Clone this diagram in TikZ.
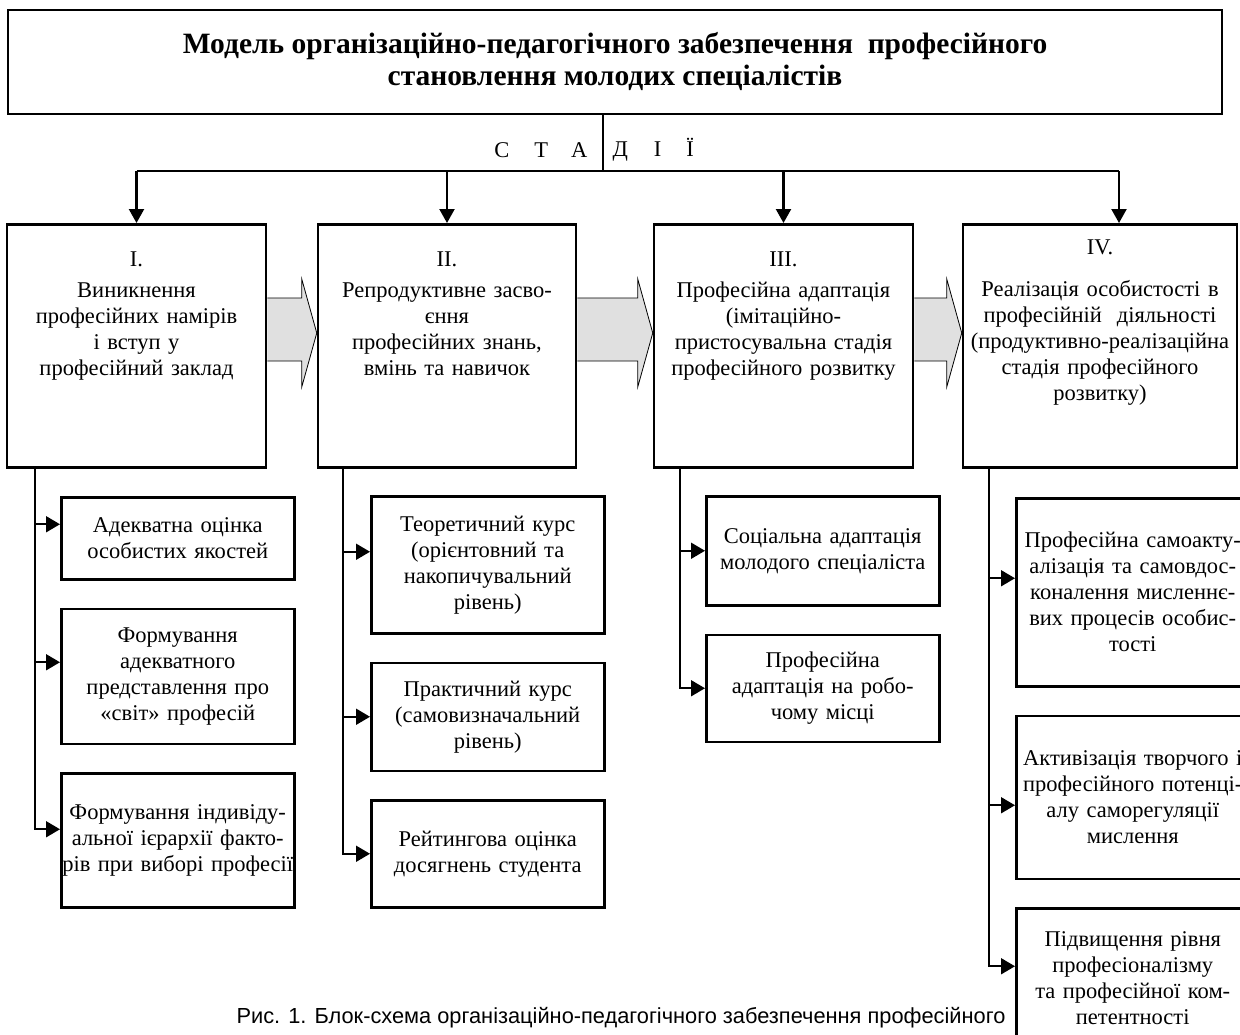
\documentclass[tikz,border=0pt]{standalone}
\usepackage{fontspec}
\setmainfont{Liberation Serif}
\newfontfamily\capfont{Liberation Sans}
\usepackage{tikz}
\usetikzlibrary{positioning}
\usetikzlibrary{arrows.meta}

\begin{document}
\begin{tikzpicture}[
        x = 1pt, y = -1pt,
        font = \fontsize{22.5}{26}\selectfont,
        stage/.style = {
            draw,
            line width = 2.5pt,
            align = center,
            anchor = north,
            inner xsep = 2pt,
            inner ysep = 0pt
        },
        sub/.style = {
            draw,
            line width = 2.5pt,
            align = center,
            text width = 229pt,
            minimum height = #1,
            inner xsep = 2pt,
            inner ysep = 0pt
        },
        link/.style = {
            line width = 2.2pt,
            -{Triangle[length=14pt, width=15pt]}
        },
        branch/.style = {
            line width = 1.8pt,
            -{Triangle[length=14pt, width=16pt]}
        },
        flow/.style = {
            draw,
            fill = black!12,
            line width = 0.8pt
        },
        node distance = {27pt}
        ]
        \useasboundingbox (0,0) rectangle (1240,1034);
%
        \node[draw, line width=2pt, minimum width=1214pt, minimum height=104pt, align=center,
              font=\bfseries\fontsize{29.5}{32}\selectfont] (title) at (615,62)
              {Модель організаційно-педагогічного забезпечення\ \ професійного\\ становлення молодих спеціалістів};
%
        \coordinate (hub) at (603,171);
        \node[anchor=east] (stl) at (591,150) {С\hspace{25pt}Т\hspace{23pt}А};
        \node[anchor=west] (str) at (609,150) {Д\hspace{26pt}І\hspace{25pt}Ї};
%
% stages
        \node[stage, text width=255pt, text height=42pt, text depth=201pt] (st1) at (136.5,223)
              {I.\\[5pt] Виникнення\\ професійних намірів\\ і вступ у\\ професійний заклад};
        \node[stage, text width=254pt, text height=42pt, text depth=201pt] (st2) at (447,223)
              {II.\\[5pt] Репродуктивне засво-\\ єння\\ професійних знань,\\ вмінь та навичок};
        \node[stage, text width=255pt, text height=42pt, text depth=201pt] (st3) at (783.5,223)
              {III.\\[5pt] Професійна адаптація\\ (імітаційно-\\ пристосувальна стадія\\ професійного розвитку};
        \node[stage, text width=270pt, text height=30pt, text depth=213pt] (st4) at (1100,223)
              {IV.\\[16pt] Реалізація особистості в\\ професійній\ \ діяльності\\ (продуктивно-реалізаційна\\ стадія професійного\\ розвитку)};
%
        \draw[line width=1.5pt] (title.south -| hub) -- (hub);
        \draw[line width=1.5pt] (st1.north |- hub) -- ([xshift=19pt]st4.north |- hub);
        \draw[link] (st1.north |- hub) -- (st1.north);
        \draw[link] (st2.north |- hub) -- (st2.north);
        \draw[link] (st3.north |- hub) -- (st3.north);
        \draw[link] ([xshift=19pt]st4.north |- hub) -- ([xshift=19pt]st4.north);
%
        \draw[flow] (st1.east |- 0,298) -- ([xshift=-15pt]st2.west |- 0,298) -- ([xshift=-15pt]st2.west |- 0,279)
              -- (st2.west |- 0,333) -- ([xshift=-15pt]st2.west |- 0,387) -- ([xshift=-15pt]st2.west |- 0,361) -- (st1.east |- 0,361);
        \draw[flow] (st2.east |- 0,298) -- ([xshift=-15pt]st3.west |- 0,298) -- ([xshift=-15pt]st3.west |- 0,279)
              -- (st3.west |- 0,333) -- ([xshift=-15pt]st3.west |- 0,387) -- ([xshift=-15pt]st3.west |- 0,361) -- (st2.east |- 0,361);
        \draw[flow] (st3.east |- 0,298) -- ([xshift=-15pt]st4.west |- 0,298) -- ([xshift=-15pt]st4.west |- 0,279)
              -- (st4.west |- 0,333) -- ([xshift=-15pt]st4.west |- 0,387) -- ([xshift=-15pt]st4.west |- 0,361) -- (st3.east |- 0,361);
%
% stage I
        \node[sub=82pt, anchor=north west] (a1) at (60,496) {Адекватна оцінка\\ особистих якостей};
        \node[sub=135pt, below=of a1] (a2) {Формування\\ адекватного\\ представлення про\\ «світ» професій};
        \node[sub=134pt, below=of a2] (a3) {Формування індивіду-\\ альної ієрархії факто-\\ \makebox[\linewidth]{рів при виборі професії}};
%
% stage II
        \node[sub=137pt, anchor=north west] (b1) at (370,495) {Теоретичний курс\\ (орієнтовний та\\ накопичувальний\\ рівень)};
        \node[sub=108pt, below=of b1] (b2) {Практичний курс\\ (самовизначальний\\ рівень)};
        \node[sub=107pt, below=of b2] (b3) {Рейтингова оцінка\\ досягнень студента};
%
% stage III
        \node[sub=109pt, anchor=north west] (c1) at (705,495) {Соціальна адаптація\\ молодого спеціаліста};
        \node[sub=107pt, below=of c1] (c2) {Професійна\\ адаптація на робо-\\ чому місці};
%
% stage IV
        \node[sub=188pt, anchor=north west] (d1) at (1015,497) {Професійна самоакту-\\ алізація та самовдос-\\ коналення мисленнє-\\ вих процесів особис-\\ тості};
        \node[sub=163pt, below=of d1] (d2) {\makebox[\linewidth]{Активізація творчого і}\\ професійного потенці-\\ алу саморегуляції\\ мислення};
        \node[sub=140pt, below=of d2] (d3) {Підвищення рівня\\ професіоналізму\\ та професійної ком-\\ петентності};
%
        \draw[branch] (st1.south -| 35,0) |- ([yshift=14pt]a1.west);
        \draw[branch] (st1.south -| 35,0) |- ([yshift=14pt]a2.west);
        \draw[branch] (st1.south -| 35,0) |- ([yshift=11pt]a3.west);
%
        \draw[branch] (st2.south -| 343,0) |- ([yshift=13pt]b1.west);
        \draw[branch] (st2.south -| 343,0) |- (b2.west);
        \draw[branch] (st2.south -| 343,0) |- (b3.west);
%
        \draw[branch] (st3.south -| 680,0) |- (c1.west);
        \draw[branch] (st3.south -| 680,0) |- (c2.west);
%
        \draw[branch] (st4.south -| 989,0) |- ([yshift=14pt]d1.west);
        \draw[branch] (st4.south -| 989,0) |- ([yshift=-8pt]d2.west);
        \draw[branch] (st4.south -| 989,0) |- ([yshift=12pt]d3.west);
%
        \node[font=\capfont\fontsize{21.8}{24}\selectfont] (cap) at (621,1018)
              {Рис. 1. Блок-схема організаційно-педагогічного забезпечення професійного};
%
    \end{tikzpicture}
\end{document}
